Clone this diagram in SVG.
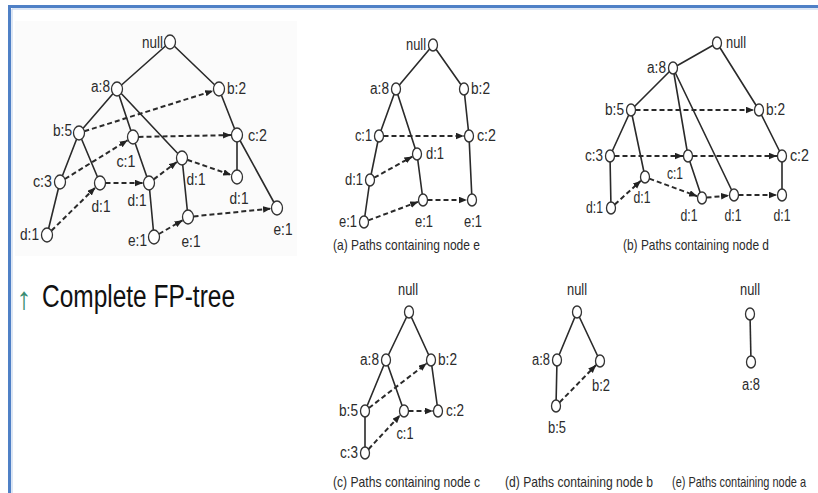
<svg xmlns="http://www.w3.org/2000/svg" width="818" height="493" viewBox="0 0 818 493">
<defs>
<marker id="ah" markerUnits="userSpaceOnUse" markerWidth="9" markerHeight="7" refX="8" refY="3.25" orient="auto">
<path d="M0,0 L8,3.25 L0,6.5 z" fill="#222"/>
</marker>
<style>
.e{stroke:#2a2a2a;stroke-width:1.6;fill:none}
.k{stroke:#2a2a2a;stroke-width:2;stroke-dasharray:5 3;fill:none;marker-end:url(#ah)}
.n{fill:#fff;stroke:#333;stroke-width:1.3}
.t{font-family:"Liberation Sans",Arial,sans-serif;font-size:16px;fill:#2b2b2b}
.cap{font-family:"Liberation Sans",Arial,sans-serif;font-size:15px;fill:#2b2b2b}
.big{font-family:"Liberation Sans",Arial,sans-serif;font-size:31px;fill:#111}
</style>
</defs>
<rect width="818" height="493" fill="#fff"/>
<rect x="15" y="21" width="282" height="235" fill="#fbfbfb"/>
<path d="M12 493 V9 H818" stroke="#b9cdea" stroke-width="1" fill="none"/>
<path d="M9.5 493 V6.5 H818" stroke="#4f80c6" stroke-width="3" fill="none"/>

<g id="connectors">
<!-- full tree edges -->
<path class="e" d="M170 42 L117 89 M170 42 L219 89 M117 89 L79 133 M117 89 L133 137 M117 89 L182 158 M79 133 L60 182 M79 133 L100 183 M60 182 L47 235 M133 137 L149 183 M149 183 L154 237 M182 158 L188 217 M219 89 L237 135 M237 135 L237 177 M237 135 L277 208"/>
<!-- full tree node links -->
<path class="k" d="M84.3 131.3 L213.2 90.8"/>
<path class="k" d="M64.9 179 L127.6 140.3"/>
<path class="k" d="M138.5 136.9 L231 135.1"/>
<path class="k" d="M51.4 230.7 L95.3 187.6"/>
<path class="k" d="M105.5 183 L143 183"/>
<path class="k" d="M153.7 179.4 L176.9 161.9"/>
<path class="k" d="M187.3 159.8 L231.2 175"/>
<path class="k" d="M158.9 234 L182.6 220.3"/>
<path class="k" d="M193.5 216.4 L271 208.6"/>
<!-- (a) -->
<path class="e" d="M433 45 L396 89 M433 45 L464 89 M396 89 L379 136 M396 89 L417 154 M379 136 L370 180 M370 180 L364 222 M417 154 L423 200 M464 89 L469 136 M469 136 L472 200"/>
<path class="k" d="M383.5 136 L464 136"/>
<path class="k" d="M374.2 177.7 L412.4 156.6"/>
<path class="k" d="M368.3 220.4 L418.2 201.8"/>
<path class="k" d="M427.5 200 L467 200"/>
<!-- (b) -->
<path class="e" d="M717 43 L673 68 M717 43 L759 110 M673 68 L631 110 M673 68 L688 156 M673 68 L734 195 M631 110 L610 156 M631 110 L645 177 M610 156 L611 208 M688 156 L702 198 M759 110 L782 156 M782 156 L782 195"/>
<path class="k" d="M635.5 110 L754 110"/>
<path class="k" d="M614.5 156 L683 156"/>
<path class="k" d="M692.5 156 L777 156"/>
<path class="k" d="M614.7 204.6 L640.9 180.7"/>
<path class="k" d="M649.3 178.6 L697.2 196.2"/>
<path class="k" d="M706.5 197.6 L729 195.5"/>
<path class="k" d="M738.5 195 L777 195"/>
<!-- (c) -->
<path class="e" d="M409 312 L386 360 M409 312 L431 360 M386 360 L365 411 M386 360 L404 411 M431 360 L438 411 M365 411 L365 453"/>
<path class="k" d="M368.9 408 L426.7 363.3"/>
<path class="k" d="M368.5 449.2 L400.2 415.1"/>
<path class="k" d="M408.5 411 L433 411"/>
<!-- (d) -->
<path class="e" d="M577 312 L557 360 M577 312 L600 361 M557 360 L556 406"/>
<path class="k" d="M559.6 402.4 L596.1 365"/>
<!-- (e) -->
<path class="e" d="M750 314 L751 362"/>
</g>

<g id="full-tree">
<g id="ft-null"><ellipse class="n" cx="170" cy="42" rx="5.5" ry="7"/><text class="t" x="163" y="47.5" text-anchor="end" textLength="21" lengthAdjust="spacingAndGlyphs">null</text></g>
<g id="ft-a8"><ellipse class="n" cx="117" cy="89" rx="5.5" ry="7"/><text class="t" x="110" y="92" text-anchor="end" textLength="19" lengthAdjust="spacingAndGlyphs">a:8</text></g>
<g id="ft-b2"><ellipse class="n" cx="219" cy="89" rx="5.5" ry="7"/><text class="t" x="227" y="94" textLength="19" lengthAdjust="spacingAndGlyphs">b:2</text></g>
<g id="ft-b5"><ellipse class="n" cx="79" cy="133" rx="5.5" ry="7"/><text class="t" x="72" y="136" text-anchor="end" textLength="19" lengthAdjust="spacingAndGlyphs">b:5</text></g>
<g id="ft-c1"><ellipse class="n" cx="133" cy="137" rx="5.5" ry="7"/><text class="t" x="126" y="167" text-anchor="middle" textLength="19" lengthAdjust="spacingAndGlyphs">c:1</text></g>
<g id="ft-c2"><ellipse class="n" cx="237" cy="135" rx="5.5" ry="7"/><text class="t" x="248" y="141" textLength="19" lengthAdjust="spacingAndGlyphs">c:2</text></g>
<g id="ft-c3"><ellipse class="n" cx="60" cy="182" rx="5.5" ry="7"/><text class="t" x="52" y="187" text-anchor="end" textLength="19" lengthAdjust="spacingAndGlyphs">c:3</text></g>
<g id="ft-d1-1"><ellipse class="n" cx="100" cy="183" rx="5.5" ry="7"/><text class="t" x="101" y="212" text-anchor="middle" textLength="19" lengthAdjust="spacingAndGlyphs">d:1</text></g>
<g id="ft-d1-2"><ellipse class="n" cx="149" cy="183" rx="5.5" ry="7"/><text class="t" x="137" y="206" text-anchor="middle" textLength="19" lengthAdjust="spacingAndGlyphs">d:1</text></g>
<g id="ft-d1-3"><ellipse class="n" cx="182" cy="158" rx="5.5" ry="7"/><text class="t" x="196" y="185" text-anchor="middle" textLength="19" lengthAdjust="spacingAndGlyphs">d:1</text></g>
<g id="ft-d1-4"><ellipse class="n" cx="237" cy="177" rx="5.5" ry="7"/><text class="t" x="239" y="204" text-anchor="middle" textLength="19" lengthAdjust="spacingAndGlyphs">d:1</text></g>
<g id="ft-d1-5"><ellipse class="n" cx="47" cy="235" rx="5.5" ry="7"/><text class="t" x="39" y="240" text-anchor="end" textLength="19" lengthAdjust="spacingAndGlyphs">d:1</text></g>
<g id="ft-e1-1"><ellipse class="n" cx="154" cy="237" rx="5.5" ry="7"/><text class="t" x="147" y="246" text-anchor="end" textLength="19" lengthAdjust="spacingAndGlyphs">e:1</text></g>
<g id="ft-e1-2"><ellipse class="n" cx="188" cy="217" rx="5.5" ry="7"/><text class="t" x="191" y="247" text-anchor="middle" textLength="19" lengthAdjust="spacingAndGlyphs">e:1</text></g>
<g id="ft-e1-3"><ellipse class="n" cx="277" cy="208" rx="5.5" ry="7"/><text class="t" x="283" y="235" text-anchor="middle" textLength="19" lengthAdjust="spacingAndGlyphs">e:1</text></g>
</g>

<g id="title"><text x="24" y="309" text-anchor="middle" font-family="'Liberation Sans','DejaVu Sans',sans-serif" font-size="31" fill="#3a8c73">↑</text><text class="big" x="42" y="307" textLength="193" lengthAdjust="spacingAndGlyphs">Complete FP-tree</text></g>

<g id="sub-a">
<g id="a-null"><ellipse class="n" cx="433" cy="45" rx="4.5" ry="6"/><text class="t" x="426" y="50" text-anchor="end" textLength="20" lengthAdjust="spacingAndGlyphs">null</text></g>
<g id="a-a8"><ellipse class="n" cx="396" cy="89" rx="4.5" ry="6"/><text class="t" x="389" y="94" text-anchor="end" textLength="19" lengthAdjust="spacingAndGlyphs">a:8</text></g>
<g id="a-b2"><ellipse class="n" cx="464" cy="89" rx="4.5" ry="6"/><text class="t" x="471" y="94" textLength="19" lengthAdjust="spacingAndGlyphs">b:2</text></g>
<g id="a-c1"><ellipse class="n" cx="379" cy="136" rx="4.5" ry="6"/><text class="t" x="372" y="141" text-anchor="end" textLength="17" lengthAdjust="spacingAndGlyphs">c:1</text></g>
<g id="a-c2"><ellipse class="n" cx="469" cy="136" rx="4.5" ry="6"/><text class="t" x="477" y="141" textLength="19" lengthAdjust="spacingAndGlyphs">c:2</text></g>
<g id="a-d1-1"><ellipse class="n" cx="417" cy="154" rx="4.5" ry="6"/><text class="t" x="426" y="159" textLength="18" lengthAdjust="spacingAndGlyphs">d:1</text></g>
<g id="a-d1-2"><ellipse class="n" cx="370" cy="180" rx="4.5" ry="6"/><text class="t" x="363" y="185" text-anchor="end" textLength="18" lengthAdjust="spacingAndGlyphs">d:1</text></g>
<g id="a-e1-1"><ellipse class="n" cx="364" cy="222" rx="4.5" ry="6"/><text class="t" x="357" y="227" text-anchor="end" textLength="18" lengthAdjust="spacingAndGlyphs">e:1</text></g>
<g id="a-e1-2"><ellipse class="n" cx="423" cy="200" rx="4.5" ry="6"/><text class="t" x="424" y="227" text-anchor="middle" textLength="18" lengthAdjust="spacingAndGlyphs">e:1</text></g>
<g id="a-e1-3"><ellipse class="n" cx="472" cy="200" rx="4.5" ry="6"/><text class="t" x="473" y="227" text-anchor="middle" textLength="18" lengthAdjust="spacingAndGlyphs">e:1</text></g>
<text class="cap" x="333" y="250" textLength="147" lengthAdjust="spacingAndGlyphs">(a) Paths containing node e</text>
</g>

<g id="sub-b">
<g id="b-null"><ellipse class="n" cx="717" cy="43" rx="4.5" ry="6"/><text class="t" x="726" y="48" textLength="20" lengthAdjust="spacingAndGlyphs">null</text></g>
<g id="b-a8"><ellipse class="n" cx="673" cy="68" rx="4.5" ry="6"/><text class="t" x="666" y="73" text-anchor="end" textLength="19" lengthAdjust="spacingAndGlyphs">a:8</text></g>
<g id="b-b5"><ellipse class="n" cx="631" cy="110" rx="4.5" ry="6"/><text class="t" x="624" y="115" text-anchor="end" textLength="19" lengthAdjust="spacingAndGlyphs">b:5</text></g>
<g id="b-b2"><ellipse class="n" cx="759" cy="110" rx="4.5" ry="6"/><text class="t" x="766" y="115" textLength="19" lengthAdjust="spacingAndGlyphs">b:2</text></g>
<g id="b-c3"><ellipse class="n" cx="610" cy="156" rx="4.5" ry="6"/><text class="t" x="603" y="161" text-anchor="end" textLength="18" lengthAdjust="spacingAndGlyphs">c:3</text></g>
<g id="b-c1"><ellipse class="n" cx="688" cy="156" rx="4.5" ry="6"/><text class="t" x="675" y="179" text-anchor="middle" textLength="16" lengthAdjust="spacingAndGlyphs">c:1</text></g>
<g id="b-c2"><ellipse class="n" cx="782" cy="156" rx="4.5" ry="6"/><text class="t" x="790" y="161" textLength="19" lengthAdjust="spacingAndGlyphs">c:2</text></g>
<g id="b-d1-1"><ellipse class="n" cx="645" cy="177" rx="4.5" ry="6"/><text class="t" x="642" y="203" text-anchor="middle" textLength="17" lengthAdjust="spacingAndGlyphs">d:1</text></g>
<g id="b-d1-2"><ellipse class="n" cx="611" cy="208" rx="4.5" ry="6"/><text class="t" x="603" y="213" text-anchor="end" textLength="17" lengthAdjust="spacingAndGlyphs">d:1</text></g>
<g id="b-d1-3"><ellipse class="n" cx="702" cy="198" rx="4.5" ry="6"/><text class="t" x="689" y="221" text-anchor="middle" textLength="17" lengthAdjust="spacingAndGlyphs">d:1</text></g>
<g id="b-d1-4"><ellipse class="n" cx="734" cy="195" rx="4.5" ry="6"/><text class="t" x="733" y="221" text-anchor="middle" textLength="17" lengthAdjust="spacingAndGlyphs">d:1</text></g>
<g id="b-d1-5"><ellipse class="n" cx="782" cy="195" rx="4.5" ry="6"/><text class="t" x="782" y="221" text-anchor="middle" textLength="17" lengthAdjust="spacingAndGlyphs">d:1</text></g>
<text class="cap" x="623" y="250" textLength="146" lengthAdjust="spacingAndGlyphs">(b) Paths containing node d</text>
</g>

<g id="sub-c">
<g id="c-null"><ellipse class="n" cx="409" cy="312" rx="4.5" ry="6"/><text class="t" x="408" y="295" text-anchor="middle" textLength="20" lengthAdjust="spacingAndGlyphs">null</text></g>
<g id="c-a8"><ellipse class="n" cx="386" cy="360" rx="4.5" ry="6"/><text class="t" x="379" y="365" text-anchor="end" textLength="19" lengthAdjust="spacingAndGlyphs">a:8</text></g>
<g id="c-b2"><ellipse class="n" cx="431" cy="360" rx="4.5" ry="6"/><text class="t" x="438" y="365" textLength="19" lengthAdjust="spacingAndGlyphs">b:2</text></g>
<g id="c-b5"><ellipse class="n" cx="365" cy="411" rx="4.5" ry="6"/><text class="t" x="358" y="416" text-anchor="end" textLength="19" lengthAdjust="spacingAndGlyphs">b:5</text></g>
<g id="c-c1"><ellipse class="n" cx="404" cy="411" rx="4.5" ry="6"/><text class="t" x="405" y="439" text-anchor="middle" textLength="17" lengthAdjust="spacingAndGlyphs">c:1</text></g>
<g id="c-c2"><ellipse class="n" cx="438" cy="411" rx="4.5" ry="6"/><text class="t" x="446" y="416" textLength="18" lengthAdjust="spacingAndGlyphs">c:2</text></g>
<g id="c-c3"><ellipse class="n" cx="365" cy="453" rx="4.5" ry="6"/><text class="t" x="358" y="458" text-anchor="end" textLength="18" lengthAdjust="spacingAndGlyphs">c:3</text></g>
<text class="cap" x="333" y="487" textLength="147" lengthAdjust="spacingAndGlyphs">(c) Paths containing node c</text>
</g>

<g id="sub-d">
<g id="d-null"><ellipse class="n" cx="577" cy="312" rx="4.5" ry="6"/><text class="t" x="577" y="295" text-anchor="middle" textLength="20" lengthAdjust="spacingAndGlyphs">null</text></g>
<g id="d-a8"><ellipse class="n" cx="557" cy="360" rx="4.5" ry="6"/><text class="t" x="550" y="365" text-anchor="end" textLength="18" lengthAdjust="spacingAndGlyphs">a:8</text></g>
<g id="d-b2"><ellipse class="n" cx="600" cy="361" rx="4.5" ry="6"/><text class="t" x="601" y="391" text-anchor="middle" textLength="18" lengthAdjust="spacingAndGlyphs">b:2</text></g>
<g id="d-b5"><ellipse class="n" cx="556" cy="406" rx="4.5" ry="6"/><text class="t" x="557" y="433" text-anchor="middle" textLength="18" lengthAdjust="spacingAndGlyphs">b:5</text></g>
<text class="cap" x="505" y="487" textLength="148" lengthAdjust="spacingAndGlyphs">(d) Paths containing node b</text>
</g>

<g id="sub-e">
<g id="e-null"><ellipse class="n" cx="750" cy="314" rx="4.5" ry="6"/><text class="t" x="750" y="295" text-anchor="middle" textLength="20" lengthAdjust="spacingAndGlyphs">null</text></g>
<g id="e-a8"><ellipse class="n" cx="751" cy="362" rx="4.5" ry="6"/><text class="t" x="751" y="390" text-anchor="middle" textLength="18" lengthAdjust="spacingAndGlyphs">a:8</text></g>
<text class="cap" x="672" y="487" textLength="134" lengthAdjust="spacingAndGlyphs">(e) Paths containing node a</text>
</g>
</svg>
